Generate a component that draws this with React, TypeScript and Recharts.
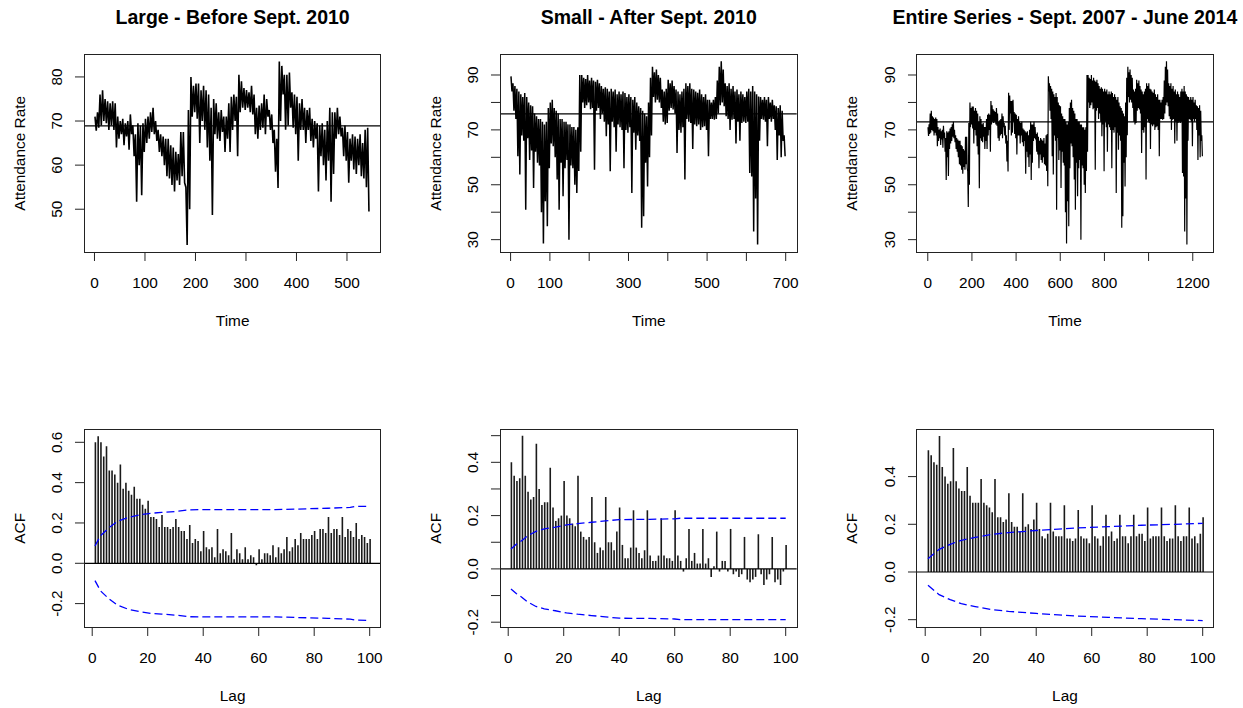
import React from 'react';
import { LineChart, Line, ComposedChart, Bar, XAxis, YAxis, ReferenceLine } from 'recharts';

// ---------------- DATA ----------------
// Attendance readings (high / low alternating within each 5-day block)
const largeSeries = [
  71, 67.8, 72, 68.5, 76, 69, 77, 70, 75, 69.5, 74.5, 68, 74, 69, 74.5, 68, 74, 64, 71, 66,
  70, 67, 70.5, 64.5, 69.5, 66.5, 70, 63.5, 71.5, 67, 69, 62, 67, 51.7, 69.5, 60, 69, 53.2, 69.5, 63,
  70.5, 65, 71, 66, 72, 67.5, 73, 67, 70, 65.5, 68, 63, 67, 62, 66.5, 60, 66, 57.5, 66, 57,
  64.5, 55.5, 64, 54, 63, 56.5, 62.5, 55.5, 67.5, 57.5, 67.5, 56, 55, 41.9, 72.5, 50, 80, 71, 78, 72,
  78.5, 70.5, 78.5, 65, 77, 70, 78, 68, 77, 64, 76, 61, 73, 48.7, 75, 67, 74, 66, 72, 65.5,
  72.5, 67.5, 71, 63, 71, 66, 74, 63, 75.5, 68, 76, 70, 75.5, 62, 80.5, 72, 79, 73, 77.5, 72.5,
  77, 73, 76.5, 72, 78, 71.5, 76, 67, 73, 66, 73.5, 68, 74, 68.5, 76, 67, 75, 71, 72.5, 68,
  71.5, 65, 68, 58.5, 66, 54.8, 83.5, 70, 82.5, 76, 80.5, 68, 80.5, 69, 81, 73, 76.5, 68.5, 76, 67,
  75.5, 61, 74, 68, 75, 68, 73, 65, 72.5, 68, 73, 65.5, 70.5, 64, 70, 66, 69.5, 54, 69, 62,
  69.5, 60, 68, 56.5, 70, 61, 73, 51.7, 72, 58, 72, 66, 73, 67, 71, 66.5, 68.5, 62, 69, 61,
  67.5, 56, 66, 61, 67, 59, 66.5, 58, 66, 60, 67, 57.5, 65, 57, 68, 55, 68.5, 49.5,
];

const smallSeries = [
  89.5, 84, 87, 77, 86, 74, 85, 60.4, 84, 53.7, 83, 68, 82, 66, 83.4, 40.9, 82, 67, 80, 59,
  79, 62.5, 78.6, 48.8, 76, 62, 75, 58, 74, 57, 74, 40, 73, 28.6, 72, 44, 73, 34.9, 78, 56,
  80, 65, 81, 64, 78, 60, 77, 51.9, 76, 40.9, 74, 58, 74, 45.8, 73, 56, 73, 59, 72, 30,
  72, 57, 71, 56, 71, 50, 70, 47, 71, 55, 90, 62, 90, 80, 89, 78, 88.5, 79, 90, 80,
  88, 77.5, 89, 78, 88, 55.5, 87.5, 77, 88.3, 78, 87, 74, 86, 76, 85, 73, 85.5, 67.7, 85, 72,
  84, 54.9, 85, 73, 84, 71, 84.7, 62, 83, 72, 84, 71, 83, 70, 84, 56, 83.4, 70, 82, 69,
  83, 71, 82, 47, 81, 69, 82, 62.8, 80, 68, 78.6, 66, 78, 34.3, 77, 38.5, 76, 58, 75, 49.4,
  80, 60, 89, 68, 93, 82, 91, 80, 92, 81, 90, 80, 89, 78, 84.7, 73, 84, 72, 85, 72.5,
  88.3, 77, 87, 78, 88, 77.4, 86, 76, 84.7, 61.6, 84, 70, 83, 69, 84, 71, 85, 51.9, 87, 74,
  86, 73, 87, 72.5, 85, 63, 84.7, 72, 84, 71.3, 83.5, 72, 84.7, 70, 83, 71, 82, 71.3, 83, 70,
  81, 60.4, 81, 74, 80, 74, 81, 73.7, 82, 74, 88, 76, 93, 79, 95, 80, 92, 78.6, 87, 75,
  86, 74, 87, 70, 85, 73.7, 86, 74, 84, 65, 84.7, 73, 83, 66, 84, 72.5, 83, 73, 82, 72.5,
  84, 73, 85, 54.3, 84, 53, 86, 33, 84, 45, 83, 28.2, 82.2, 66, 82, 74, 81, 73.7, 82, 73,
  81, 64, 82, 74, 80, 73, 81, 74, 79, 70, 78.6, 59, 78, 68, 79, 60, 77, 66, 68, 60.4,
];

const entireSeries = [...largeSeries, ...smallSeries];
const READING_STEP = 2.5; // days between consecutive readings in the arrays

const meanLarge = 68.9;
const meanSmall = 75.8;
const meanEntire = 72.9;

// ACF values, lags 1..100
const acfLarge = [
  0.60, 0.63, 0.60, 0.53, 0.58, 0.46, 0.46, 0.44, 0.40, 0.49,
  0.37, 0.40, 0.36, 0.34, 0.38, 0.32, 0.32, 0.29, 0.27, 0.31,
  0.23, 0.23, 0.22, 0.18, 0.24, 0.18, 0.18, 0.17, 0.18, 0.22,
  0.18, 0.16, 0.16, 0.12, 0.19, 0.10, 0.12, 0.11, 0.06, 0.16,
  0.08, 0.07, 0.08, 0.03, 0.17, 0.05, 0.07, 0.06, 0.04, 0.15,
  0.02, 0.07, 0.05, 0.02, 0.08, 0.02, 0.04, 0.03, -0.01, 0.07,
  0.02, 0.05, 0.05, 0.04, 0.09, 0.03, 0.08, 0.05, 0.07, 0.13,
  0.06, 0.08, 0.12, 0.09, 0.15, 0.12, 0.12, 0.12, 0.14, 0.16,
  0.12, 0.17, 0.17, 0.15, 0.23, 0.15, 0.17, 0.17, 0.14, 0.23,
  0.13, 0.17, 0.16, 0.13, 0.20, 0.12, 0.14, 0.13, 0.10, 0.12,
];
const acfSmall = [
  0.40, 0.35, 0.33, 0.34, 0.50, 0.35, 0.29, 0.26, 0.27, 0.47,
  0.30, 0.24, 0.25, 0.25, 0.38, 0.23, 0.18, 0.19, 0.20, 0.33,
  0.20, 0.19, 0.17, 0.16, 0.35, 0.14, 0.12, 0.11, 0.12, 0.27,
  0.10, 0.06, 0.08, 0.07, 0.27, 0.10, 0.10, 0.07, 0.14, 0.23,
  0.09, 0.04, 0.04, 0.08, 0.22, 0.08, 0.06, 0.04, 0.07, 0.22,
  0.05, 0.03, 0.03, 0.05, 0.19, 0.05, 0.04, 0.04, 0.03, 0.22,
  0.05, 0.03, -0.01, 0.04, 0.15, 0.03, 0.06, 0.02, 0.02, 0.15,
  0.02, 0.04, -0.03, 0.01, 0.14, -0.01, 0.03, 0.03, -0.01, 0.15,
  -0.02, -0.01, -0.03, -0.02, 0.12, -0.04, -0.05, -0.04, -0.03, 0.13,
  -0.02, -0.06, -0.04, -0.02, 0.12, -0.05, -0.04, -0.06, -0.01, 0.09,
];
const acfEntire = [
  0.51, 0.49, 0.46, 0.45, 0.57, 0.44, 0.40, 0.37, 0.38, 0.52,
  0.38, 0.35, 0.34, 0.34, 0.44, 0.32, 0.29, 0.29, 0.29, 0.39,
  0.29, 0.28, 0.27, 0.25, 0.39, 0.23, 0.23, 0.21, 0.22, 0.33,
  0.21, 0.19, 0.19, 0.17, 0.33, 0.19, 0.20, 0.18, 0.22, 0.29,
  0.18, 0.15, 0.14, 0.16, 0.29, 0.17, 0.15, 0.15, 0.15, 0.28,
  0.14, 0.14, 0.13, 0.14, 0.26, 0.15, 0.14, 0.14, 0.12, 0.28,
  0.15, 0.14, 0.11, 0.15, 0.24, 0.15, 0.17, 0.13, 0.14, 0.24,
  0.15, 0.15, 0.12, 0.15, 0.24, 0.15, 0.16, 0.16, 0.13, 0.27,
  0.14, 0.15, 0.15, 0.15, 0.27, 0.15, 0.13, 0.14, 0.14, 0.28,
  0.15, 0.13, 0.15, 0.15, 0.27, 0.14, 0.15, 0.12, 0.16, 0.23,
];

// Confidence band half-widths (dashed blue lines), read at selected lags
const climLargeLags = [1, 3, 6, 9, 13, 18, 21, 25, 30, 35, 40, 66, 85, 93, 95, 100];
const climLargeVals = [0.086, 0.137, 0.176, 0.207, 0.228, 0.242, 0.248, 0.252, 0.257, 0.265, 0.266, 0.266, 0.273, 0.277, 0.282, 0.283];
const climSmallLags = [1, 3, 5, 7, 10, 13, 17, 21, 25, 30, 35, 40, 51, 60, 62, 100];
const climSmallVals = [0.075, 0.093, 0.107, 0.124, 0.141, 0.15, 0.157, 0.165, 0.17, 0.175, 0.18, 0.185, 0.186, 0.188, 0.19, 0.19];
const climEntireLags = [1, 5, 9, 13, 18, 24, 30, 40, 48, 55, 66, 78, 90, 100];
const climEntireVals = [0.056, 0.095, 0.116, 0.133, 0.145, 0.158, 0.165, 0.174, 0.18, 0.185, 0.19, 0.196, 0.2, 0.204];

const largeXTicks = [0, 100, 200, 300, 400, 500];
const smallXTicks = [0, 100, 200, 300, 400, 500, 600, 700];
const smallXLabels = [0, 100, 300, 500, 700];
const entireXTicks = [0, 200, 400, 600, 800, 1000, 1200];
const entireXLabels = [0, 200, 400, 600, 800, 1200];
const largeYTicks = [50, 60, 70, 80];
const wideYTicks = [30, 40, 50, 60, 70, 80, 90];
const wideYLabels = [30, 50, 70, 90];
const lagTicks = [0, 20, 40, 60, 80, 100];
const acfLargeYTicks = [-0.2, 0, 0.2, 0.4, 0.6];
const acfSmallYTicks = [-0.2, -0.1, 0, 0.1, 0.2, 0.3, 0.4, 0.5];
const acfSmallYLabels = [-0.2, 0, 0.2, 0.4];
const acfEntireYTicks = [-0.2, 0, 0.2, 0.4];

// ---------------- LAYOUT ----------------
const FONT = '"Liberation Sans", Arial, Helvetica, sans-serif';
const BOX_W = 296.7;
const BOX_H = 198;
const COLS = [84.3, 500.4, 916.6];
const ROWS = [54.3, 429.3];
const ML = 84;
const MT = 54;
const MR = 20;
const MB = 80;
const TICK = 9;
const LABEL_FS = 15.4;

const toRows = (series: number[]) => series.map((v, j) => ({ t: 1 + j * READING_STEP, v }));
const toAcfRows = (acf: number[]) => acf.map((a, i) => ({ lag: i + 1, acf: a }));
const toClim = (lags: number[], vals: number[]) => lags.map((l, i) => ({ lag: l, up: vals[i], lo: -vals[i] }));

function makeXTick(labels: number[], fmt: (v: number) => string) {
  return (props: any) => {
    const { x, y, payload } = props;
    const v = payload.value;
    return (
      <g>
        <line x1={x} x2={x} y1={y} y2={y + TICK} stroke="#222" strokeWidth={1} />
        {labels.includes(v) && (
          <text x={x} y={y + 36.5} textAnchor="middle" fontSize={LABEL_FS} fontFamily={FONT} fill="#000">
            {fmt(v)}
          </text>
        )}
      </g>
    );
  };
}

function makeYTick(labels: number[], fmt: (v: number) => string) {
  return (props: any) => {
    const { x, y, payload } = props;
    const v = payload.value;
    const tx = x - 22.3;
    return (
      <g>
        <line x1={x - TICK} x2={x} y1={y} y2={y} stroke="#222" strokeWidth={1} />
        {labels.includes(v) && (
          <text
            x={tx}
            y={y}
            transform={`rotate(-90 ${tx} ${y})`}
            textAnchor="middle"
            fontSize={LABEL_FS}
            fontFamily={FONT}
            fill="#000"
          >
            {fmt(v)}
          </text>
        )}
      </g>
    );
  };
}

const intFmt = (v: number) => String(v);
const decFmt = (v: number) => v.toFixed(1);

const W = ML + BOX_W + MR;
const H = MT + BOX_H + MB;

function BoxFrame() {
  return (
    <div
      style={{
        position: 'absolute',
        left: ML - 0.5,
        top: MT - 0.5,
        width: BOX_W + 1,
        height: BOX_H + 1,
        border: '1px solid #222',
        boxSizing: 'border-box',
        pointerEvents: 'none',
      }}
    />
  );
}

type TSProps = {
  col: number;
  series: number[];
  xDomain: [number, number];
  xTicks: number[];
  xLabels: number[];
  yDomain: [number, number];
  yTicks: number[];
  yLabels: number[];
  mean: number;
  lineWidth: number;
};

function TimePanel(p: TSProps) {
  const L = COLS[p.col];
  const T = ROWS[0];
  const data = toRows(p.series);
  return (
    <div style={{ position: 'absolute', left: L - ML, top: T - MT, width: W, height: H }}>
      <LineChart width={W} height={H} data={data} margin={{ top: MT, right: MR, bottom: 0, left: ML - 60 }}>
        <XAxis
          dataKey="t"
          type="number"
          domain={p.xDomain}
          ticks={p.xTicks}
          interval={0}
          tick={makeXTick(p.xLabels, intFmt)}
          tickLine={false}
          axisLine={false}
          tickSize={0}
          tickMargin={0}
          height={MB}
          allowDataOverflow
        />
        <YAxis
          type="number"
          domain={p.yDomain}
          ticks={p.yTicks}
          interval={0}
          tick={makeYTick(p.yLabels, intFmt)}
          tickLine={false}
          axisLine={false}
          tickSize={0}
          tickMargin={0}
          width={60}
          allowDataOverflow
        />
        <Line
          dataKey="v"
          type="linear"
          stroke="#000"
          strokeWidth={p.lineWidth}
          dot={false}
          activeDot={false}
          isAnimationActive={false}
        />
        <ReferenceLine y={p.mean} stroke="#000" strokeWidth={1.3} />
      </LineChart>
      <BoxFrame />
    </div>
  );
}

type AcfProps = {
  col: number;
  acf: number[];
  climLags: number[];
  climVals: number[];
  yDomain: [number, number];
  yTicks: number[];
  yLabels: number[];
};

function AcfPanel(p: AcfProps) {
  const L = COLS[p.col];
  const T = ROWS[1];
  const data = toAcfRows(p.acf);
  const clim = toClim(p.climLags, p.climVals);
  return (
    <div style={{ position: 'absolute', left: L - ML, top: T - MT, width: W, height: H }}>
      <ComposedChart width={W} height={H} data={data} margin={{ top: MT, right: MR, bottom: 0, left: ML - 60 }}>
        <XAxis
          dataKey="lag"
          type="number"
          domain={[-2.96, 103.96]}
          ticks={lagTicks}
          interval={0}
          tick={makeXTick(lagTicks, intFmt)}
          tickLine={false}
          axisLine={false}
          tickSize={0}
          tickMargin={0}
          height={MB}
          allowDataOverflow
        />
        <YAxis
          type="number"
          domain={p.yDomain}
          ticks={p.yTicks}
          interval={0}
          tick={makeYTick(p.yLabels, decFmt)}
          tickLine={false}
          axisLine={false}
          tickSize={0}
          tickMargin={0}
          width={60}
          allowDataOverflow
        />
        <Bar dataKey="acf" barSize={1.6} fill="#1a1a1a" isAnimationActive={false} />
        <ReferenceLine y={0} stroke="#000" strokeWidth={1.2} />
        <Line
          data={clim}
          dataKey="up"
          type="linear"
          stroke="#0000ff"
          strokeWidth={1.3}
          strokeDasharray="8 4"
          dot={false}
          activeDot={false}
          isAnimationActive={false}
        />
        <Line
          data={clim}
          dataKey="lo"
          type="linear"
          stroke="#0000ff"
          strokeWidth={1.3}
          strokeDasharray="8 4"
          dot={false}
          activeDot={false}
          isAnimationActive={false}
        />
      </ComposedChart>
      <BoxFrame />
    </div>
  );
}

const titles = ['Large - Before Sept. 2010', 'Small - After Sept. 2010', 'Entire Series - Sept. 2007 - June 2014'];

function TextLayer() {
  const items: React.ReactNode[] = [];
  COLS.forEach((L, c) => {
    const cx = L + BOX_W / 2;
    items.push(
      <text key={`t${c}`} x={cx} y={ROWS[0] - 30.3} textAnchor="middle" fontSize={19.5} fontWeight="bold" fontFamily={FONT} fill="#000">
        {titles[c]}
      </text>
    );
    ROWS.forEach((T, r) => {
      const yx = L - 59.3;
      const yy = T + BOX_H / 2;
      items.push(
        <text key={`y${c}${r}`} x={yx} y={yy} transform={`rotate(-90 ${yx} ${yy})`} textAnchor="middle" fontSize={LABEL_FS} fontFamily={FONT} fill="#000">
          {r === 0 ? 'Attendance Rate' : 'ACF'}
        </text>
      );
      items.push(
        <text key={`x${c}${r}`} x={cx} y={T + BOX_H + 73.5} textAnchor="middle" fontSize={LABEL_FS} fontFamily={FONT} fill="#000">
          {r === 0 ? 'Time' : 'Lag'}
        </text>
      );
    });
  });
  return (
    <svg width={1243} height={708} style={{ position: 'absolute', left: 0, top: 0, pointerEvents: 'none' }}>
      {items}
    </svg>
  );
}

export default function App() {
  return (
    <div style={{ position: 'absolute', left: 0, top: 0, width: 1243, height: 708, background: '#fff', fontFamily: FONT, overflow: 'hidden' }}>
      <TimePanel
        col={0}
        series={largeSeries}
        xDomain={[-20.76, 566.76]}
        xTicks={largeXTicks}
        xLabels={largeXTicks}
        yDomain={[40.3, 85.2]}
        yTicks={largeYTicks}
        yLabels={largeYTicks}
        mean={meanLarge}
        lineWidth={1.6}
      />
      <TimePanel
        col={1}
        series={smallSeries}
        xDomain={[-26.96, 727.96]}
        xTicks={smallXTicks}
        xLabels={smallXLabels}
        yDomain={[25.5, 97.65]}
        yTicks={wideYTicks}
        yLabels={wideYLabels}
        mean={meanSmall}
        lineWidth={1.5}
      />
      <TimePanel
        col={2}
        series={entireSeries}
        xDomain={[-48.8, 1294.8]}
        xTicks={entireXTicks}
        xLabels={entireXLabels}
        yDomain={[25.5, 97.65]}
        yTicks={wideYTicks}
        yLabels={wideYLabels}
        mean={meanEntire}
        lineWidth={1.2}
      />
      <AcfPanel
        col={0}
        acf={acfLarge}
        climLags={climLargeLags}
        climVals={climLargeVals}
        yDomain={[-0.316, 0.666]}
        yTicks={acfLargeYTicks}
        yLabels={acfLargeYTicks}
      />
      <AcfPanel
        col={1}
        acf={acfSmall}
        climLags={climSmallLags}
        climVals={climSmallVals}
        yDomain={[-0.218, 0.525]}
        yTicks={acfSmallYTicks}
        yLabels={acfSmallYLabels}
      />
      <AcfPanel
        col={2}
        acf={acfEntire}
        climLags={climEntireLags}
        climVals={climEntireVals}
        yDomain={[-0.2307, 0.5996]}
        yTicks={acfEntireYTicks}
        yLabels={acfEntireYTicks}
      />
      <TextLayer />
    </div>
  );
}
